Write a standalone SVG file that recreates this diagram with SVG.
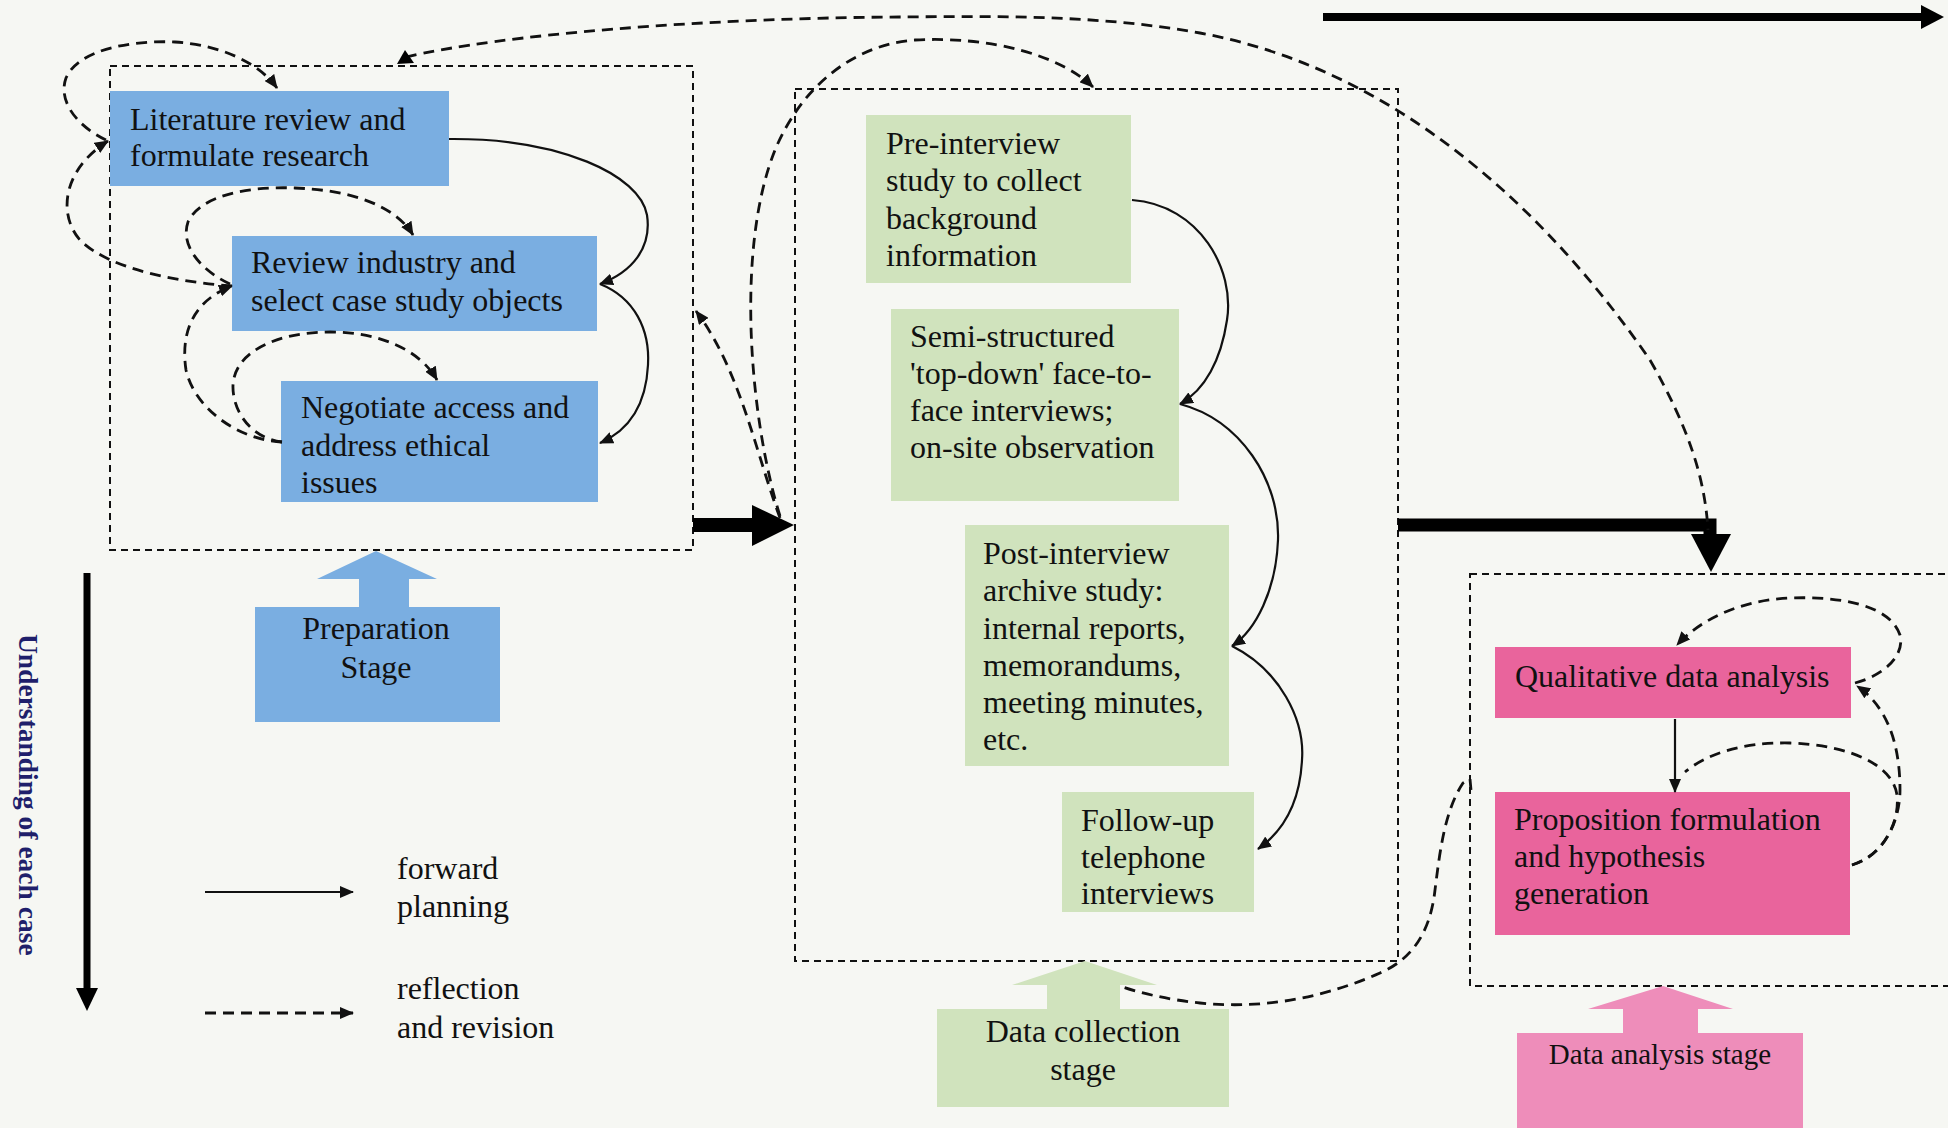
<svg xmlns="http://www.w3.org/2000/svg" width="1948" height="1128" viewBox="0 0 1948 1128">
  <style>
    .bg { fill: #f6f7f3; }
    .frame { fill: none; stroke: #111; stroke-width: 2; stroke-dasharray: 7 5; }
    .blue { fill: #7aaee1; }
    .green { fill: #d0e3bd; }
    .pink { fill: #e9649c; }
    .pink2 { fill: #ee8dba; }
    .t { font-family: "Liberation Serif", "Times New Roman", serif; font-size: 32px; fill: #111; }
    .tc { text-anchor: middle; }
    .solid { fill: none; stroke: #111; stroke-width: 2.2; marker-end: url(#ah); }
    .dash { fill: none; stroke: #111; stroke-width: 2.8; stroke-dasharray: 11 7; }
    .dashA { marker-end: url(#ah); }
    .thick { fill: none; stroke: #000; }
    .head { fill: #000; }
  </style>
  <defs>
    <marker id="ah" viewBox="0 0 14 12" refX="13" refY="6" markerWidth="14" markerHeight="12" markerUnits="userSpaceOnUse" orient="auto">
      <path d="M0,0 L14,6 L0,12 z" fill="#111"/>
    </marker>
  </defs>

  <rect class="bg" x="0" y="0" width="1948" height="1128"/>

  <!-- stage frames -->
  <g id="frames">
    <rect class="frame" x="110" y="66" width="583" height="484"/>
    <rect class="frame" x="795" y="89" width="603" height="872"/>
    <rect class="frame" x="1470" y="574" width="490" height="412"/>
  </g>

  <!-- preparation stage -->
  <g id="lit-review">
    <rect class="blue" x="110" y="91" width="339" height="95"/>
    <text class="t" x="130" y="130">Literature review and</text>
    <text class="t" x="130" y="166">formulate research</text>
  </g>
  <g id="review-industry">
    <rect class="blue" x="232" y="236" width="365" height="95"/>
    <text class="t" x="251" y="273">Review industry and</text>
    <text class="t" x="251" y="311">select case study objects</text>
  </g>
  <g id="negotiate">
    <rect class="blue" x="281" y="381" width="317" height="121"/>
    <text class="t" x="301" y="418">Negotiate access and</text>
    <text class="t" x="301" y="456">address ethical</text>
    <text class="t" x="301" y="493">issues</text>
  </g>
  <g id="preparation-stage">
    <polygon class="blue" points="255,607 359,607 359,579 317,579 376,551 437,579 409,579 409,607 500,607 500,722 255,722"/>
    <text class="t tc" x="376" y="639">Preparation</text>
    <text class="t tc" x="376" y="678">Stage</text>
  </g>

  <!-- data collection stage -->
  <g id="pre-interview">
    <rect class="green" x="866" y="115" width="265" height="168"/>
    <text class="t" x="886" y="154">Pre-interview</text>
    <text class="t" x="886" y="191">study to collect</text>
    <text class="t" x="886" y="229">background</text>
    <text class="t" x="886" y="266">information</text>
  </g>
  <g id="semi-structured">
    <rect class="green" x="891" y="309" width="288" height="192"/>
    <text class="t" x="910" y="347">Semi-structured</text>
    <text class="t" x="910" y="384">'top-down' face-to-</text>
    <text class="t" x="910" y="421">face interviews;</text>
    <text class="t" x="910" y="458">on-site observation</text>
  </g>
  <g id="post-interview">
    <rect class="green" x="965" y="525" width="264" height="241"/>
    <text class="t" x="983" y="564">Post-interview</text>
    <text class="t" x="983" y="601">archive study:</text>
    <text class="t" x="983" y="639">internal reports,</text>
    <text class="t" x="983" y="676">memorandums,</text>
    <text class="t" x="983" y="713">meeting minutes,</text>
    <text class="t" x="983" y="750">etc.</text>
  </g>
  <g id="follow-up">
    <rect class="green" x="1062" y="792" width="192" height="120"/>
    <text class="t" x="1081" y="831">Follow-up</text>
    <text class="t" x="1081" y="868">telephone</text>
    <text class="t" x="1081" y="904">interviews</text>
  </g>
  <g id="data-collection-stage">
    <polygon class="green" points="937,1009 1047,1009 1047,985 1012,985 1085,961 1157,985 1120,985 1120,1009 1229,1009 1229,1107 937,1107"/>
    <text class="t tc" x="1083" y="1042">Data collection</text>
    <text class="t tc" x="1083" y="1080">stage</text>
  </g>

  <!-- data analysis stage -->
  <g id="qualitative">
    <rect class="pink" x="1495" y="647" width="356" height="71"/>
    <text class="t" x="1515" y="687">Qualitative data analysis</text>
  </g>
  <g id="proposition">
    <rect class="pink" x="1495" y="792" width="355" height="143"/>
    <text class="t" x="1514" y="830">Proposition formulation</text>
    <text class="t" x="1514" y="867">and hypothesis</text>
    <text class="t" x="1514" y="904">generation</text>
  </g>
  <g id="data-analysis-stage">
    <polygon class="pink2" points="1517,1033 1623,1033 1623,1009 1588,1009 1663,986 1733,1009 1698,1009 1698,1033 1803,1033 1803,1140 1517,1140"/>
    <text class="t tc" x="1660" y="1064" style="font-size:29px">Data analysis stage</text>
  </g>

  <!-- side axis and legend -->
  <g id="axis">
    <line class="thick" x1="87" y1="573" x2="87" y2="990" stroke-width="7"/>
    <polygon class="head" points="76,988 98,988 87,1011"/>
    <text x="0" y="0" transform="translate(19,634) rotate(90)" style="font-family:'Liberation Serif','Times New Roman',serif;font-size:27.5px;font-weight:bold;fill:#1f1f6b">Understanding of each case</text>
  </g>
  <g id="legend">
    <path class="solid" d="M205,892 H353"/>
    <text class="t" x="397" y="879">forward</text>
    <text class="t" x="397" y="917">planning</text>
    <path class="dash dashA" d="M205,1013 H353"/>
    <text class="t" x="397" y="999">reflection</text>
    <text class="t" x="397" y="1038">and revision</text>
  </g>
  <g id="progress-arrow">
    <line class="thick" x1="1323" y1="17" x2="1925" y2="17" stroke-width="8"/>
    <polygon class="head" points="1921,5 1944,17 1921,29"/>
  </g>

  <!-- connectors -->
  <g id="connectors">
    <!-- forward planning, preparation -->
    <path class="solid" d="M449,139 C560,138 640,175 647,215 C652,248 632,272 600,284"/>
    <path class="solid" d="M600,284 C635,298 650,330 648,365 C646,405 630,430 600,443"/>
    <!-- reflection loops, preparation -->
    <path class="dash dashA" d="M106,140 C75,125 58,100 66,78 C78,50 130,40 175,42 C220,45 258,62 277,88"/>
    <path class="dash dashA" d="M232,286 C180,282 110,270 80,240 C58,215 62,170 108,141"/>
    <path class="dash dashA" d="M230,284 C200,270 180,245 188,222 C200,195 250,186 295,188 C350,190 395,205 413,235"/>
    <path class="dash dashA" d="M282,442 C240,440 195,410 186,370 C180,330 195,300 232,286"/>
    <path class="dash dashA" d="M282,442 C250,438 232,410 233,385 C235,350 280,332 330,332 C380,332 420,350 437,380"/>

    <!-- stage transitions -->
    <line class="thick" x1="693" y1="525" x2="756" y2="525" stroke-width="14"/>
    <polygon class="head" points="752,505 794,525 752,546"/>
    <path class="thick" d="M1398,525 H1710 V540" stroke-width="13"/>
    <polygon class="head" points="1691,534 1731,534 1711,572"/>

    <!-- reflection between stages -->
    <path class="dash dashA" d="M780,518 C755,450 740,370 696,311"/>
    <path class="dash dashA" d="M780,516 C750,420 735,250 775,150 C800,90 850,45 915,40 C990,36 1060,55 1093,87"/>
    <path class="dash" d="M406,57 C500,35 700,18 900,17 C1000,16 1100,15 1200,33 C1400,70 1550,215 1650,360 C1690,430 1705,480 1708,530"/>
    <polygon class="head" points="405,50 397,64 414,63"/>
    <path class="dash" d="M1471,790 L1470,779 L1463,783 C1445,810 1440,850 1435,890 C1430,935 1410,960 1380,973 C1330,995 1270,1010 1200,1003 C1170,1000 1140,993 1123,987"/>

    <!-- forward planning, data collection -->
    <path class="solid" d="M1132,200 C1200,205 1235,270 1227,320 C1221,360 1205,390 1180,404"/>
    <path class="solid" d="M1180,404 C1240,420 1280,480 1278,540 C1276,590 1256,630 1232,646"/>
    <path class="solid" d="M1232,646 C1280,670 1305,720 1302,760 C1300,800 1285,830 1258,849"/>

    <!-- data analysis -->
    <path class="solid" d="M1675,719 V792"/>
    <path class="dash dashA" d="M1855,683 C1885,675 1905,655 1900,635 C1890,605 1840,596 1790,598 C1740,600 1700,620 1677,645"/>
    <path class="dash dashA" d="M1852,865 C1885,855 1900,820 1900,790 C1900,740 1885,705 1857,686"/>
    <path class="dash" d="M1852,865 C1885,855 1900,820 1897,795 C1893,765 1850,745 1790,743 C1740,742 1705,755 1685,772"/>
  </g>
</svg>
